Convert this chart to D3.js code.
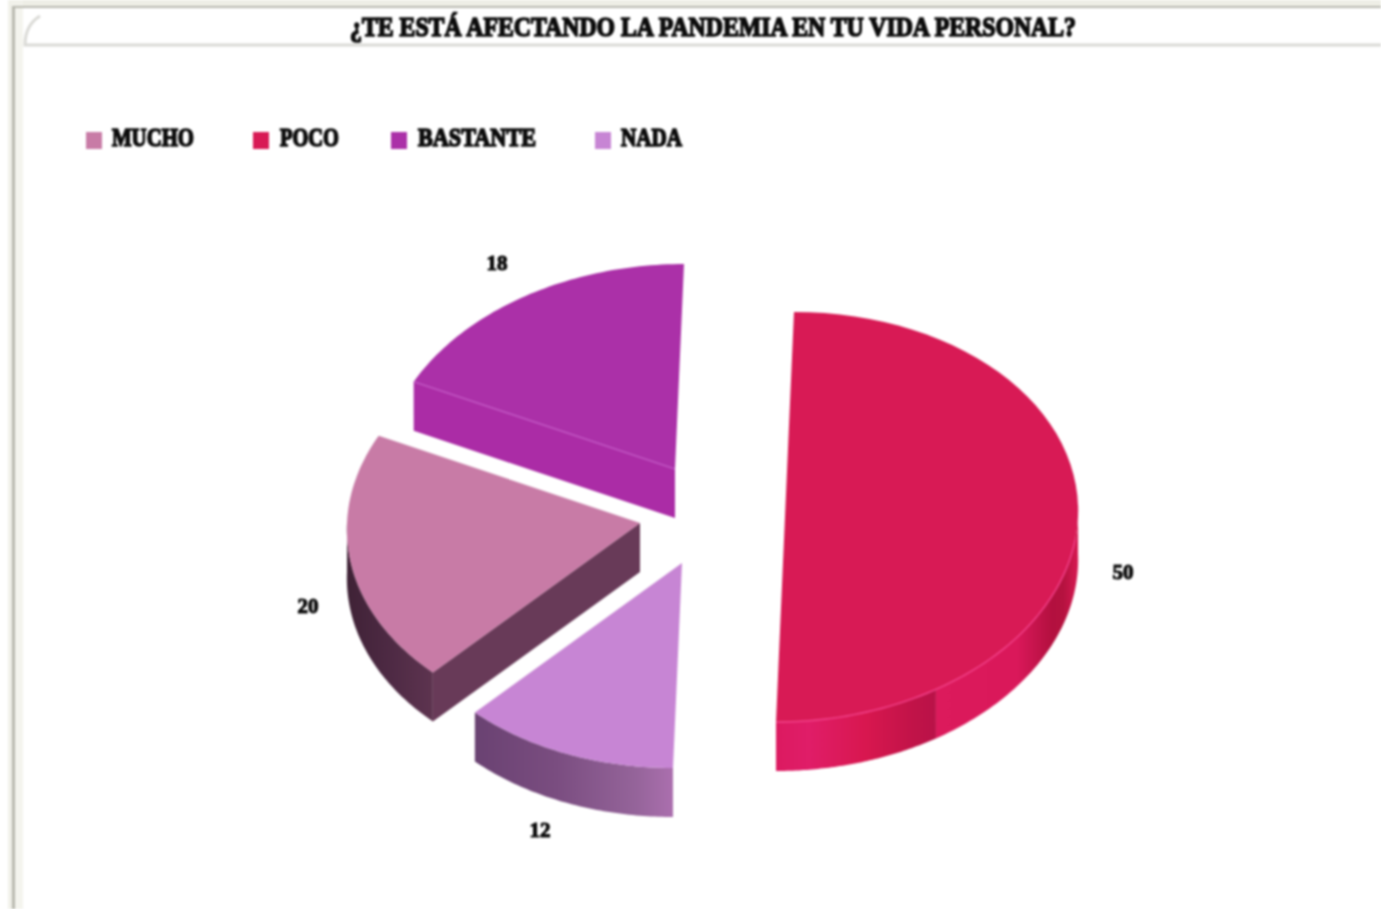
<!DOCTYPE html>
<html>
<head>
<meta charset="utf-8">
<script src="https://cdn.jsdelivr.net/npm/d3@7"></script>
<style>
  html, body { margin: 0; background: #fff; overflow: hidden; }
  svg { display: block; filter: blur(0.8px); }
  text { font-family: "Liberation Serif", serif; font-weight: 700; fill: #0c0c0c; stroke: #0c0c0c; }
</style>
</head>
<body>
<div id="chart"></div>
<script>
// chart values
var chartTitle = '¿TE ESTÁ AFECTANDO LA PANDEMIA EN TU VIDA PERSONAL?';
var categories = ['MUCHO', 'POCO', 'BASTANTE', 'NADA'];
var values     = [20, 50, 18, 12];

// order of the slices going clockwise from the top of the pie
var ringOrder = ['POCO', 'NADA', 'MUCHO', 'BASTANTE'];

var width = 1381, height = 909;

var topColor = { MUCHO: '#c87ba6', POCO: '#d81a55', BASTANTE: '#ab30a8', NADA: '#c785d4' };

// where each exploded slice has its tip
var tips = {
    POCO:     [785, 517],
    NADA:     [682, 563],
    MUCHO:    [640, 523],
    BASTANTE: [675, 469]
};
var labelSpot = { POCO: [1123, 572], NADA: [540, 830], MUCHO: [308, 606], BASTANTE: [497, 263] };
var legendSpot = {
    MUCHO:    { box: 86,  text: 112, len: 82 },
    POCO:     { box: 253, text: 280, len: 59 },
    BASTANTE: { box: 391, text: 418, len: 118 },
    NADA:     { box: 595, text: 621, len: 61 }
};

var depth = 49;

// the tilted disc: unit circle to screen offsets
var xScale = d3.scaleLinear().domain([-1, 1]).range([-293, 293]);
var yScale = d3.scaleLinear().domain([-1, 1]).range([205, -205]);
var skew   = d3.scaleLinear().domain([-1, 1]).range([-9, 9]);

function rim(tip, a, drop) {
    return [tip[0] + xScale(Math.sin(a)) + skew(Math.cos(a)),
            tip[1] + yScale(Math.cos(a)) + (drop || 0)];
}

function arcPoints(tip, a0, a1, drop) {
    var n = 60;
    return d3.range(n + 1).map(function(i) {
        return rim(tip, a0 + (a1 - a0) * i / n, drop);
    });
}

var line = d3.line();

var ring = categories.map(function(c, i) { return { name: c, value: values[i] }; });

var slices = d3.pie()
    .value(function(d) { return d.value; })
    .sort(function(a, b) { return ringOrder.indexOf(a.name) - ringOrder.indexOf(b.name); })
    (ring);

var byName = {};
slices.forEach(function(s) { byName[s.data.name] = s; });

var svg = d3.select('#chart').append('svg')
    .attr('width', width)
    .attr('height', height);

var defs = svg.append('defs');

function gradient(id, x1, x2, stops) {
    var g = defs.append('linearGradient')
        .attr('id', id)
        .attr('gradientUnits', 'userSpaceOnUse')
        .attr('x1', x1).attr('x2', x2).attr('y1', 0).attr('y2', 0);
    g.selectAll('stop').data(stops).enter().append('stop')
        .attr('offset', function(d) { return d[0]; })
        .attr('stop-color', function(d) { return d[1]; });
}

gradient('pocoFront', 776, 940, [[0, '#dc1a60'], [0.2, '#e01d68'], [0.55, '#d8174f'], [0.85, '#c01348'], [1, '#b81248']]);
gradient('pocoSide', 940, 1080, [[0, '#dc1a5c'], [0.55, '#da185a'], [0.8, '#b3103f'], [0.88, '#b5123f'], [1, '#dc1a55']]);
gradient('nadaWall', 476, 676, [[0, '#6a4272'], [0.4, '#7a4d80'], [0.8, '#95649a'], [1, '#ad70b0']]);
gradient('muchoWall', 347, 435, [[0, '#3f2236'], [0.5, '#4e2a44'], [1, '#5e3450']]);

// page frame
svg.append('rect').attr('x', 8).attr('y', 0).attr('width', width).attr('height', 6).attr('fill', '#eeeee6');
svg.append('rect').attr('x', 8).attr('y', 0).attr('width', 15).attr('height', height).attr('fill', '#f1f1ea');
svg.append('rect').attr('x', 12).attr('y', 6).attr('width', width).attr('height', 2).attr('fill', '#b9b9b0');
svg.append('rect').attr('x', 12).attr('y', 6).attr('width', 3).attr('height', height).attr('fill', '#b9b9b0');
svg.append('rect').attr('x', 15).attr('y', 8).attr('width', width).attr('height', height).attr('fill', '#fff');
svg.append('rect').attr('x', 15).attr('y', 8).attr('width', 8).attr('height', height).attr('fill', '#f4f4ee');

// title panel
svg.append('path')
    .attr('d', 'M' + width + ',45 L25,45 C25,32 30,22 40,16')
    .attr('fill', 'none')
    .attr('stroke', '#dadad6')
    .attr('stroke-width', 3);

svg.append('text')
    .attr('x', 350)
    .attr('y', 36)
    .attr('textLength', 726)
    .attr('lengthAdjust', 'spacingAndGlyphs')
    .attr('font-size', 28)
    .attr('stroke-width', 1.7)
    .text(chartTitle);

// legend
var legend = svg.selectAll('g.legend').data(categories).enter().append('g').attr('class', 'legend');

legend.append('rect')
    .attr('x', function(d) { return legendSpot[d].box; })
    .attr('y', 132)
    .attr('width', 16)
    .attr('height', 17)
    .attr('fill', function(d) { return topColor[d]; });

legend.append('text')
    .attr('x', function(d) { return legendSpot[d].text; })
    .attr('y', 146)
    .attr('textLength', function(d) { return legendSpot[d].len; })
    .attr('lengthAdjust', 'spacingAndGlyphs')
    .attr('font-size', 26)
    .attr('stroke-width', 1.7)
    .text(function(d) { return d; });

// one face of a slice
function face(points, fill) {
    svg.append('path')
        .attr('d', line(points) + 'Z')
        .attr('fill', fill);
}

function cutFace(tip, a, fill) {
    var p = rim(tip, a);
    face([tip, p, [p[0], p[1] + depth], [tip[0], tip[1] + depth]], fill);
}

function wall(tip, a0, a1, fill) {
    face(arcPoints(tip, a0, a1).concat(arcPoints(tip, a1, a0, depth)), fill);
}

function topFace(name) {
    var s = byName[name], tip = tips[name];
    face([tip].concat(arcPoints(tip, s.startAngle, s.endAngle)), topColor[name]);
}

// BASTANTE
var b = byName.BASTANTE, bTip = tips.BASTANTE;
cutFace(bTip, b.startAngle, '#ab2ca6');
topFace('BASTANTE');
svg.append('path')
    .attr('d', line([rim(bTip, b.startAngle), bTip]))
    .attr('stroke', '#c860cc')
    .attr('stroke-width', 1.2);

// MUCHO
var m = byName.MUCHO, mTip = tips.MUCHO;
wall(mTip, m.startAngle, -Math.PI / 2 + 2 * Math.PI, 'url(#muchoWall)');
cutFace(mTip, m.startAngle, '#683a58');
topFace('MUCHO');

// NADA
var n = byName.NADA, nTip = tips.NADA;
wall(nTip, n.startAngle, n.endAngle, 'url(#nadaWall)');
topFace('NADA');

// POCO, the front of the wall breaks where the shading changes
var p = byName.POCO, pTip = tips.POCO;
var pocoBreak = 2.57;
wall(pTip, p.startAngle + Math.PI / 2 - 0.06, pocoBreak, 'url(#pocoSide)');
wall(pTip, pocoBreak, p.endAngle, 'url(#pocoFront)');
topFace('POCO');
svg.append('path')
    .attr('d', line(arcPoints(pTip, 1.68, p.endAngle)))
    .attr('fill', 'none')
    .attr('stroke', '#f2418a')
    .attr('stroke-width', 1.4);

// value labels
svg.selectAll('text.value').data(slices).enter().append('text')
    .attr('class', 'value')
    .attr('x', function(d) { return labelSpot[d.data.name][0]; })
    .attr('y', function(d) { return labelSpot[d.data.name][1] + 7; })
    .attr('text-anchor', 'middle')
    .attr('font-size', 21)
    .attr('stroke-width', 1.1)
    .text(function(d) { return d.value; });
</script>
</body>
</html>
